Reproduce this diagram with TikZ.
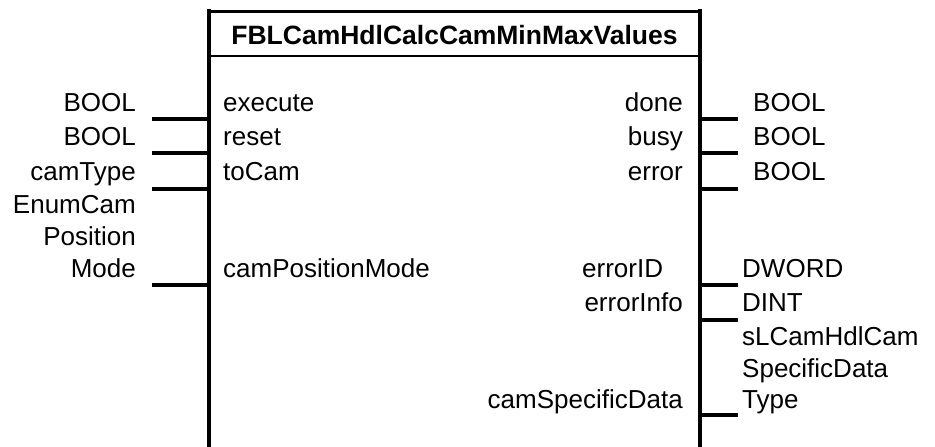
\documentclass[tikz,border=0pt]{standalone}
\usepackage{fontspec}
\setmainfont{Liberation Sans}
\begin{document}
\begin{tikzpicture}[x=1pt,y=-1pt,
  lbl/.style={inner sep=0pt,font=\fontsize{26}{32}\selectfont},
  lblR/.style={lbl,anchor=base east},
  lblL/.style={lbl,anchor=base west},
  title/.style={inner sep=0pt,anchor=base,font=\fontsize{26.5}{32}\selectfont\bfseries},
  frame/.style={line width=3.6pt},
  pin/.style={line width=3.6pt},
  rule/.style={line width=2pt}]
\useasboundingbox (0,0) rectangle (935,447);

% block outline (open at the bottom)
\coordinate (tl) at (209,9);
\coordinate (tr) at (700,9);
\coordinate (bl) at (209,449);
\coordinate (br) at (700,449);
\draw[frame] (tl) -- (bl);
\draw[frame] (tr) -- (br);
\draw[line width=3pt] (209,11) -- (700,11);
\draw[rule] (209,56) -- (700,56);
\node[title] (fbname) at (454.5,44) {FBLCamHdlCalcCamMinMaxValues};

% input pins
\foreach \n/\y in {i1/119, i2/153, i3/189, i4/285}{
  \coordinate (\n b) at (209,\y);
  \coordinate (\n e) at (152,\y);
  \draw[pin] (\n b) -- (\n e);
}
% output pins
\foreach \n/\y in {o1/119, o2/153, o3/189, o4/285, o5/320, o6/415}{
  \coordinate (\n b) at (700,\y);
  \coordinate (\n e) at (738,\y);
  \draw[pin] (\n b) -- (\n e);
}

% input data types
\node[lblR] (ti1) at (136,111) {BOOL};
\node[lblR] (ti2) at (136,145) {BOOL};
\node[lblR] (ti3) at (136,180) {camType};
\node[lblR] (ti4a) at (136,213) {EnumCam};
\node[lblR] (ti4b) at (136,245) {Position};
\node[lblR] (ti4c) at (136,277) {Mode};

% input names
\node[lblL] (ni1) at (223,111) {execute};
\node[lblL] (ni2) at (223,145) {reset};
\node[lblL] (ni3) at (223,180) {toCam};
\node[lblL] (ni4) at (223,277) {camPositionMode};

% output names
\node[lblR] (no1) at (683,111) {done};
\node[lblR] (no2) at (683,145) {busy};
\node[lblR] (no3) at (683,180) {error};
\node[lblL] (no4) at (582,277) {errorID};
\node[lblR] (no5) at (683,311) {errorInfo};
\node[lblR] (no6) at (683,408) {camSpecificData};

% output data types
\node[lblL] (to1) at (753,111) {BOOL};
\node[lblL] (to2) at (753,145) {BOOL};
\node[lblL] (to3) at (753,180) {BOOL};
\node[lblL] (to4) at (742,277) {DWORD};
\node[lblL] (to5) at (742,311) {DINT};
\node[lblL] (to6a) at (742,345) {sLCamHdlCam};
\node[lblL] (to6b) at (742,377) {SpecificData};
\node[lblL] (to6c) at (742,408) {Type};
\end{tikzpicture}
\end{document}
